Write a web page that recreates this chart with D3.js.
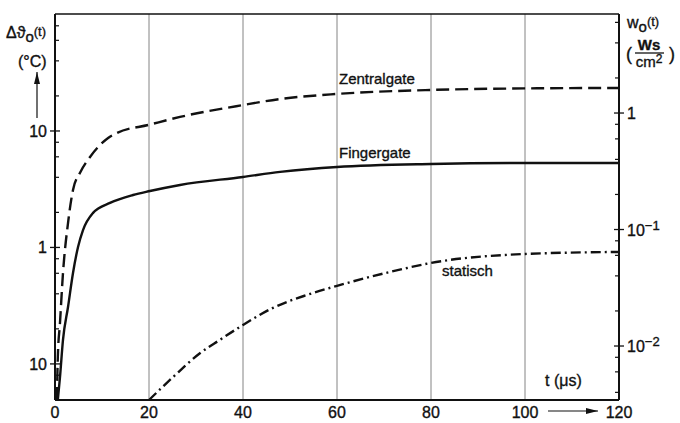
<!DOCTYPE html>
<html>
<head>
<meta charset="utf-8">
<script src="https://cdn.jsdelivr.net/npm/d3@7"></script>
<style>
  body { margin: 0; background: #fff; }
  svg text { font-family: "Liberation Sans", Arial, sans-serif; fill: #111; stroke: #111; stroke-width: 0.35; }
</style>
</head>
<body>
<div id="chart"></div>
<script>
/* DATA */
var zentralT = [0.4, 0.6, 1.06, 1.7, 2.77, 3.83, 5.3, 7.45, 9.6, 11.3, 13.2, 20, 26.6, 40, 47.9, 60, 80, 100, 120];
var zentralV = [0.049, 0.115, 0.225, 0.604, 1.62, 3.12, 4.36, 5.98, 7.59, 8.71, 9.61, 11.3, 13.2, 16.7, 18.8, 20.8, 22.5, 23.2, 23.4];

var fingerT = [0.6, 1.06, 1.7, 2.77, 3.83, 4.9, 5.96, 8.1, 11.7, 16.6, 20.2, 26.6, 40, 47.9, 60, 80, 100, 120];
var fingerV = [0.049, 0.077, 0.161, 0.308, 0.604, 1.01, 1.41, 1.98, 2.41, 2.82, 3.05, 3.44, 4.03, 4.45, 4.91, 5.21, 5.31, 5.31];

var statT = [20, 25.1, 30.9, 35.1, 40, 46.4, 53.6, 60, 71.3, 80, 100, 120];
var statV = [0.049, 0.077, 0.124, 0.161, 0.216, 0.303, 0.391, 0.468, 0.616, 0.736, 0.879, 0.915];

var xTicks = [0, 20, 40, 60, 80, 100, 120];
var leftTicks = [10, 1, 0.1];
var leftLabels = ["10", "1", "10"];
var rightTicks = [1, 0.1, 0.01];
var rightLabels = [["1", ""], ["10", "\u22121"], ["10", "\u22122"]];
var minorMult = [2, 4, 6, 8];

/* SETUP */
var width = 680;
var height = 423;
var plotL = 55, plotR = 619, plotT = 14, plotB = 400;

var svg = d3.select("#chart")
  .append("svg")
  .attr("width", width)
  .attr("height", height);

var x = d3.scaleLinear().domain([0, 120]).range([plotL, plotR]);
var y = d3.scaleLog().domain([0.049, 101]).range([plotB, plotT]);        // °C
var yR = d3.scaleLog().domain([0.00344, 7.08]).range([plotB, plotT]);    // Ws/cm²

// vertical grid lines
svg.append("g")
  .selectAll("line")
  .data(xTicks.filter(function(d) { return d > 0 && d < 120; }))
  .enter()
  .append("line")
  .attr("x1", function(d) { return x(d); })
  .attr("x2", function(d) { return x(d); })
  .attr("y1", plotT)
  .attr("y2", plotB)
  .attr("stroke", "#777")
  .attr("stroke-width", 0.9);

// frame
svg.append("line").attr("x1", plotL).attr("x2", plotR).attr("y1", plotT).attr("y2", plotT)
  .attr("stroke", "#111").attr("stroke-width", 1.3);
svg.append("line").attr("x1", plotL).attr("x2", plotR).attr("y1", plotB).attr("y2", plotB)
  .attr("stroke", "#111").attr("stroke-width", 2);
svg.append("line").attr("x1", plotL).attr("x2", plotL).attr("y1", plotT).attr("y2", plotB)
  .attr("stroke", "#111").attr("stroke-width", 2);
svg.append("line").attr("x1", plotR).attr("x2", plotR).attr("y1", plotT).attr("y2", plotB)
  .attr("stroke", "#111").attr("stroke-width", 2);

// minor ticks (2,4,6,8 × decade) inside the frame
function minorValues(scale) {
  var dom = scale.domain(), out = [];
  for (var e = -4; e <= 3; e++) {
    minorMult.forEach(function(m) {
      var v = m * Math.pow(10, e);
      if (v > dom[0] && v < dom[1]) out.push(v);
    });
  }
  return out;
}

svg.append("g").selectAll("line")
  .data(minorValues(y))
  .enter().append("line")
  .attr("x1", plotL).attr("x2", plotL + 4)
  .attr("y1", function(d) { return y(d); })
  .attr("y2", function(d) { return y(d); })
  .attr("stroke", "#111").attr("stroke-width", 1.2);

svg.append("g").selectAll("line")
  .data(minorValues(yR))
  .enter().append("line")
  .attr("x1", plotR - 4).attr("x2", plotR)
  .attr("y1", function(d) { return yR(d); })
  .attr("y2", function(d) { return yR(d); })
  .attr("stroke", "#111").attr("stroke-width", 1.2);

// major ticks cross the axis
svg.append("g").selectAll("line")
  .data(leftTicks)
  .enter().append("line")
  .attr("x1", plotL - 5).attr("x2", plotL + 5)
  .attr("y1", function(d) { return y(d); })
  .attr("y2", function(d) { return y(d); })
  .attr("stroke", "#111").attr("stroke-width", 1.3);

svg.append("g").selectAll("line")
  .data(rightTicks)
  .enter().append("line")
  .attr("x1", plotR - 5).attr("x2", plotR + 5)
  .attr("y1", function(d) { return yR(d); })
  .attr("y2", function(d) { return yR(d); })
  .attr("stroke", "#111").attr("stroke-width", 1.3);

// left tick labels
svg.append("g").selectAll("text")
  .data(leftTicks)
  .enter().append("text")
  .attr("x", plotL - 8)
  .attr("y", function(d) { return y(d) + 6; })
  .attr("text-anchor", "end")
  .attr("font-size", 16)
  .text(function(d, i) { return leftLabels[i]; });

// right tick labels
var rl = svg.append("g").selectAll("text")
  .data(rightTicks)
  .enter().append("text")
  .attr("x", plotR + 8)
  .attr("y", function(d) { return yR(d) + 6; })
  .attr("font-size", 16);
rl.append("tspan").text(function(d, i) { return rightLabels[i][0]; });
rl.append("tspan").attr("dy", -6).attr("font-size", 13)
  .text(function(d, i) { return rightLabels[i][1]; });

// x tick labels
svg.append("g").selectAll("text")
  .data(xTicks)
  .enter().append("text")
  .attr("x", function(d) { return x(d); })
  .attr("y", plotB + 18)
  .attr("text-anchor", "middle")
  .attr("font-size", 16)
  .text(function(d) { return d; });

// arrows
svg.append("defs").append("marker")
  .attr("id", "arr")
  .attr("viewBox", "0 0 12 6")
  .attr("refX", 12).attr("refY", 3)
  .attr("markerWidth", 12).attr("markerHeight", 6)
  .attr("markerUnits", "userSpaceOnUse")
  .attr("orient", "auto")
  .append("path").attr("d", "M0,0 L12,3 L0,6 Z").attr("fill", "#111");

svg.append("line")
  .attr("x1", 548).attr("x2", 598).attr("y1", 411).attr("y2", 411)
  .attr("stroke", "#111").attr("stroke-width", 1.2)
  .attr("marker-end", "url(#arr)");

svg.append("line")
  .attr("x1", 37).attr("x2", 37).attr("y1", 118).attr("y2", 72)
  .attr("stroke", "#111").attr("stroke-width", 1.2)
  .attr("marker-end", "url(#arr)");

// axis titles
var lt = svg.append("text").attr("x", 6).attr("y", 38).attr("font-size", 16);
lt.append("tspan").text("\u0394\u03D1");
lt.append("tspan").attr("dy", 4).attr("font-size", 15).text("o");
lt.append("tspan").attr("dy", -6).attr("font-size", 13).text("(t)");

svg.append("text").attr("x", 18).attr("y", 67).attr("font-size", 16).text("(\u00B0C)");

svg.append("text").attr("x", 545).attr("y", 386).attr("font-size", 16).text("t (\u03BCs)");

var rt = svg.append("text").attr("x", 627).attr("y", 28).attr("font-size", 16);
rt.append("tspan").text("w");
rt.append("tspan").attr("dy", 4).attr("font-size", 15).text("o");
rt.append("tspan").attr("dy", -6).attr("font-size", 13).text("(t)");

svg.append("text").attr("x", 626).attr("y", 60).attr("font-size", 18).text("(");
svg.append("text").attr("x", 669).attr("y", 60).attr("font-size", 18).text(")");
svg.append("text").attr("x", 649).attr("y", 50).attr("text-anchor", "middle")
  .attr("font-size", 15).attr("font-weight", "bold").text("Ws");
svg.append("line").attr("x1", 635).attr("x2", 664).attr("y1", 53).attr("y2", 53)
  .attr("stroke", "#111").attr("stroke-width", 1.3);
var cm = svg.append("text").attr("x", 649).attr("y", 67).attr("text-anchor", "middle")
  .attr("font-size", 15);
cm.append("tspan").text("cm");
cm.append("tspan").attr("dy", -4).attr("font-size", 12).text("2");

/* CURVES */
var line = d3.line()
  .x(function(d) { return x(d[0]); })
  .y(function(d) { return y(d[1]); })
  .curve(d3.curveMonotoneX);

function drawCurve(ts, vs, dash) {
  svg.append("path")
    .datum(d3.zip(ts, vs))
    .attr("d", line)
    .attr("fill", "none")
    .attr("stroke", "#111")
    .attr("stroke-width", 2.4)
    .attr("stroke-dasharray", dash);
}

drawCurve(zentralT, zentralV, "13,6");
drawCurve(fingerT, fingerV, null);
drawCurve(statT, statV, "10,4,2,4");

// curve labels
svg.append("text").attr("x", 339).attr("y", 84).attr("font-size", 15).text("Zentralgate");
svg.append("text").attr("x", 339).attr("y", 158).attr("font-size", 15).text("Fingergate");
svg.append("text").attr("x", 442).attr("y", 276).attr("font-size", 15).text("statisch");
</script>
</body>
</html>
